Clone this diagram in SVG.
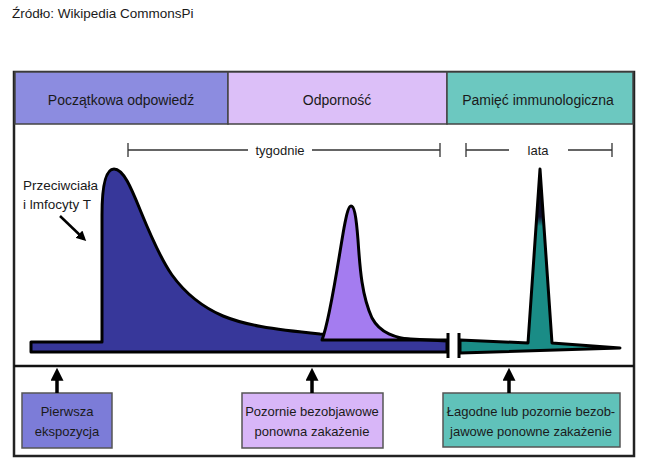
<svg xmlns="http://www.w3.org/2000/svg" width="650" height="473" viewBox="0 0 650 473">
<style>
text{font-family:"Liberation Sans",Arial,sans-serif;fill:#1a1a1a}
.hdr{font-size:14px;text-anchor:middle}
.box{font-size:13px;text-anchor:middle}
.hb{stroke:#444;stroke-width:1.5}
.bx{stroke:#555;stroke-width:1.5}
.tl{stroke:#333;stroke-width:1.3;fill:none}
.cv{stroke:#000;stroke-width:3;stroke-linejoin:round}
.ar{stroke:#000;stroke-width:3.5;fill:none}
</style>
<defs>
<marker id="ah" viewBox="0 0 10 10" refX="6.7" refY="5" markerWidth="13" markerHeight="13" markerUnits="userSpaceOnUse" orient="auto">
<path d="M0,0 L10,5 L0,10 z" fill="#000"/>
</marker>
<marker id="ah2" viewBox="0 0 10 10" refX="7" refY="5" markerWidth="10" markerHeight="10" markerUnits="userSpaceOnUse" orient="auto">
<path d="M0,0 L10,5 L0,10 z" fill="#000"/>
</marker>
<linearGradient id="tg" gradientUnits="userSpaceOnUse" x1="0" y1="169" x2="0" y2="353">
<stop offset="0" stop-color="#000"/>
<stop offset="0.26" stop-color="#111133"/>
<stop offset="0.31" stop-color="#1a8c86"/>
<stop offset="1" stop-color="#1a8c86"/>
</linearGradient>
</defs>
<rect width="650" height="473" fill="#fff"/>
<text x="12" y="18" style="font-size:13.5px">Źródło: Wikipedia CommonsPi</text>

<g id="frame">
<rect x="14" y="72" width="620" height="384" fill="#fff" stroke="#222" stroke-width="2.5"/>
<line x1="14" y1="366" x2="634" y2="366" stroke="#111" stroke-width="2.5"/>
</g>

<g id="header-poczatkowa">
<rect x="15" y="72" width="213" height="52" fill="#8c8ce0" class="hb"/>
<text x="121" y="105" class="hdr">Początkowa odpowiedź</text>
</g>
<g id="header-odpornosc">
<rect x="228" y="72" width="219" height="52" fill="#dcbff8" class="hb"/>
<text x="337" y="105" class="hdr">Odporność</text>
</g>
<g id="header-pamiec">
<rect x="447" y="72" width="186" height="52" fill="#6cc8c0" class="hb"/>
<text x="538" y="105" class="hdr">Pamięć immunologiczna</text>
</g>

<g id="timeline-tygodnie">
<path class="tl" d="M128,143 V157 M128,150 H248 M312,150 H440 M440,143 V157"/>
<text x="280" y="155" style="font-size:13px;text-anchor:middle">tygodnie</text>
</g>
<g id="timeline-lata">
<path class="tl" d="M466,143 V157 M466,150 H509 M568,150 H612 M612,143 V157"/>
<text x="538" y="155" style="font-size:13px;text-anchor:middle">lata</text>
</g>

<g id="curve-primary">
<path class="cv" fill="#37379a" d="M31,342 L102,342 L102,215 C102,185 106,169 114,169 C124,169 132,190 141,212 C150,234 160,258 172,275 C185,293 200,306 223,316 C245,325 270,329 320,334 L447,341 L447,352 L31,352 Z"/>
</g>
<g id="curve-secondary">
<path class="cv" fill="#a47cf0" d="M322,340 C330,320 338,262 344,228 C347,212 349,206 351,206 C354,206 356,214 358,240 C360,270 362,296 372,318 C380,333 395,338 414,340 L447,340 L322,340 Z"/>
</g>
<g id="break">
<line x1="448" y1="333" x2="448" y2="358" stroke="#000" stroke-width="3"/>
<line x1="459" y1="333" x2="459" y2="358" stroke="#000" stroke-width="3"/>
</g>
<g id="curve-memory">
<path class="cv" fill="url(#tg)" d="M460,340 L528,343 L540,169 L552,343 L620,348 L460,353 Z"/>
</g>

<g id="label-przeciwciala">
<text x="23" y="190" style="font-size:13.5px">Przeciwciała</text>
<text x="23" y="209" style="font-size:13.5px">i lmfocyty T</text>
</g>

<g id="box-pierwsza">
<rect x="22" y="393" width="90" height="55" fill="#7c7cd8" class="bx"/>
<text x="67" y="416" class="box">Pierwsza</text>
<text x="67" y="436" class="box">ekspozycja</text>
</g>
<g id="box-pozornie">
<rect x="242" y="393" width="141" height="55" fill="#d8b6f8" class="bx"/>
<text x="312" y="416" class="box">Pozornie bezobjawowe</text>
<text x="312" y="436" class="box">ponowna zakażenie</text>
</g>
<g id="box-lagodne">
<rect x="443" y="393" width="177" height="54" fill="#60c2ba" class="bx"/>
<text x="531" y="416" class="box">Łagodne lub pozornie bezob-</text>
<text x="531" y="436" class="box">jawowe ponowne zakażenie</text>
</g>

<g id="connectors">
<line x1="60" y1="216" x2="84" y2="239" stroke="#000" stroke-width="2.5" marker-end="url(#ah2)"/>
<line class="ar" x1="57" y1="393" x2="57" y2="372" marker-end="url(#ah)"/>
<line class="ar" x1="312" y1="393" x2="312" y2="372" marker-end="url(#ah)"/>
<line class="ar" x1="509" y1="393" x2="509" y2="372" marker-end="url(#ah)"/>
</g>
</svg>
